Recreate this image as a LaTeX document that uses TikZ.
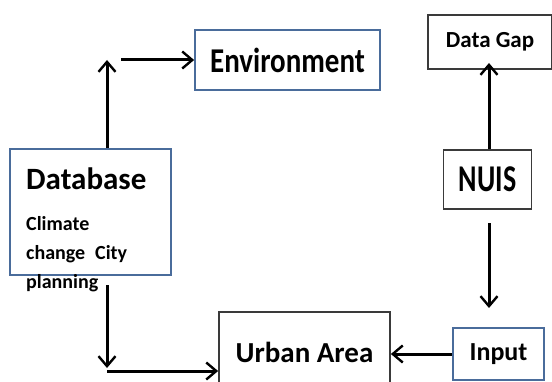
\documentclass[tikz,border=0pt]{standalone}
\usepackage{fontspec}
\setmainfont{Carlito}
\usetikzlibrary{arrows.meta,calc}

\definecolor{boxblue}{HTML}{4A6C9B}
\definecolor{boxdark}{HTML}{3A3A3A}

\tikzset{
  box/.style={draw, line width=1.8pt, inner sep=0pt, fill=white},
  bluebox/.style={box, draw=boxblue},
  darkbox/.style={box, draw=boxdark},
  link/.style={line width=3pt, -{Straight Barb[length=10pt,width=17pt,line width=2.4pt]}},
  lbl/.style={inner sep=0pt, font=\bfseries}
}

\begin{document}
\begin{tikzpicture}[x=1pt,y=1pt]
  \useasboundingbox (0,0) rectangle (552,381);
  \clip (0,0) rectangle (552,381);

  % boxes
  \node[bluebox, minimum width=161pt, minimum height=126pt] (db) at (90.5,169) {};
  \node[bluebox, minimum width=185pt, minimum height=60pt] (env) at (287.5,321)
    {\fontsize{29}{30}\selectfont\bfseries\scalebox{1}[1.2]{Environment}};
  \node[darkbox, minimum width=124pt, minimum height=54pt] (dg) at (490,339)
    {\fontsize{23}{24}\selectfont\bfseries Data Gap};
  \node[darkbox, minimum width=88pt, minimum height=59pt] (nuis) at (487.5,201.5)
    {\fontsize{28}{30}\selectfont\bfseries\scalebox{1}[1.35]{NUIS}};
  \node[darkbox, minimum width=171pt, minimum height=80pt] (ua) at (304.5,29)
    {\fontsize{29}{30}\selectfont\bfseries Urban Area};
  \node[bluebox, minimum width=91pt, minimum height=52pt] (in) at (498.5,27)
    {\fontsize{26}{28}\selectfont\bfseries Input};

  % text of the database box
  \node[lbl, anchor=base west, font=\fontsize{31}{32}\selectfont\bfseries] (dbtitle) at (26,192) {Database};
  \node[lbl, anchor=base west, font=\fontsize{20}{22}\selectfont\bfseries] (dbl1) at (26,151) {Climate};
  \node[lbl, anchor=base west, font=\fontsize{20}{22}\selectfont\bfseries] (dbl2) at (26,122) {change\hspace{10pt}City};
  \node[lbl, anchor=base west, font=\fontsize{20}{22}\selectfont\bfseries] (dbl3) at (26,93) {planning};

  % free ends of the connectors
  \coordinate (upTop) at (107,321);
  \coordinate (envFrom) at (121,321);
  \coordinate (downTop) at (107,96);
  \coordinate (downEnd) at (107,13);
  \coordinate (cornerL) at (107,10);
  \coordinate (dgIn) at (489,318);
  \coordinate (nuisDownTop) at (489,158);
  \coordinate (nuisDownEnd) at (489,73);

  % connectors
  \draw[link] (db.north -| upTop) -- (upTop);
  \draw[link] (envFrom) -- (env.west);
  \draw[link] (downTop) -- (downEnd);
  \draw[link] (cornerL) -- (cornerL -| ua.west);
  \draw[link] (nuis.north -| dgIn) -- (dgIn);
  \draw[link] (nuisDownTop) -- (nuisDownEnd);
  \draw[link] (in.west) -- (in.west -| ua.east);
\end{tikzpicture}
\end{document}
